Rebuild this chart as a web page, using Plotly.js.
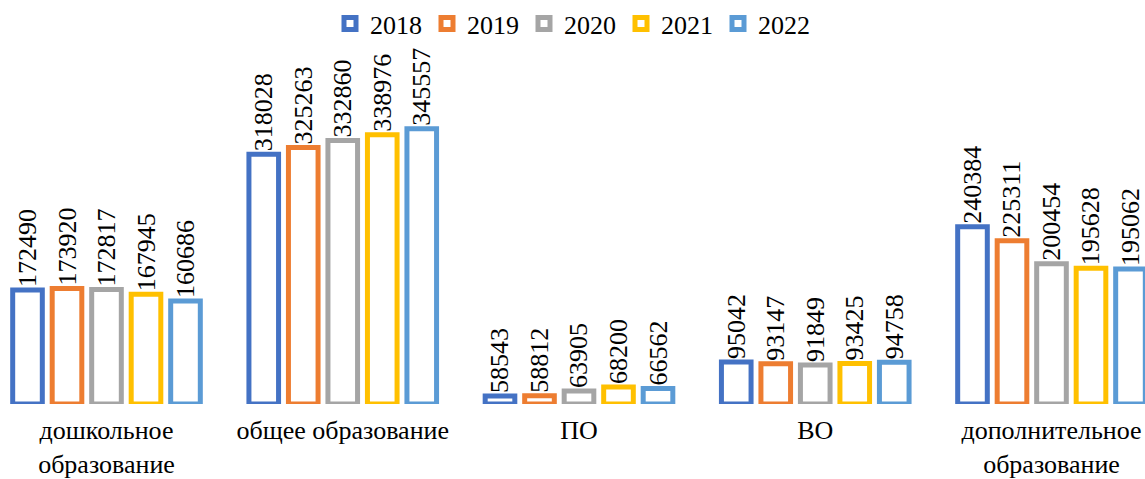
<!DOCTYPE html>
<html>
<head>
<meta charset="utf-8">
<script src="https://cdn.plot.ly/plotly-3.0.1.min.js"></script>
<style>
html, body { margin: 0; padding: 0; background: #ffffff; }
#chart { width: 1145px; height: 479px; }
#fontwarm { position:absolute; left:-5000px; top:0; font-family:'Liberation Serif', serif; font-size:26px; }
</style>
</head>
<body>
<div id="fontwarm">2018 общее образование дошкольное дополнительное ПО ВО 0123456789</div>
<div id="chart"></div>
<script>
const categories = ['дошкольное<br>образование', 'общее образование', 'ПО', 'ВО', 'дополнительное<br>образование'];
const years = ['2018', '2019', '2020', '2021', '2022'];
const v2018 = [172490, 318028, 58543, 95042, 240384];
const v2019 = [173920, 325263, 58812, 93147, 225311];
const v2020 = [172817, 332860, 63905, 91849, 200454];
const v2021 = [167945, 338976, 68200, 93425, 195628];
const v2022 = [160686, 345557, 66562, 94758, 195062];
const colors = ['#4472C4', '#ED7D31', '#A5A5A5', '#FFC000', '#5B9BD5'];
const AXIS_MIN = 50000;
const AXIS_MAX = 400000;
const FONT = 'Liberation Serif';
const series = [v2018, v2019, v2020, v2021, v2022];
const traces = series.map((vals, i) => ({
  type: 'bar', name: years[i], x: categories, base: AXIS_MIN,
  y: vals.map(v => v - AXIS_MIN), text: vals.map(v => String(v)),
  textposition: 'outside', textangle: -90, constraintext: 'none', cliponaxis: false,
  marker: { color: '#ffffff', line: { color: colors[i], width: 5 } }, hoverinfo: 'none'
}));
const layout = {
  width: 1145, height: 479, margin: { l: 0, r: 0, t: 78, b: 75, pad: 0 },
  barmode: 'group', bargap: 0.164, bargroupgap: 0.25,
  font: { family: FONT, size: 26, color: '#000000' },
  legend: { orientation: 'h', x: 0.5, xanchor: 'center', y: 1, yref: 'container', yanchor: 'top' },
  xaxis: { type: 'category', range: [-0.4508, 4.3958], showgrid: false, zeroline: false, ticks: '',
    ticklabelstandoff: 8 },
  yaxis: { range: [AXIS_MIN, AXIS_MAX], visible: false }
};
Plotly.newPlot('chart', traces, layout, { displayModeBar: false, staticPlot: true });
</script>
</body>
</html>
